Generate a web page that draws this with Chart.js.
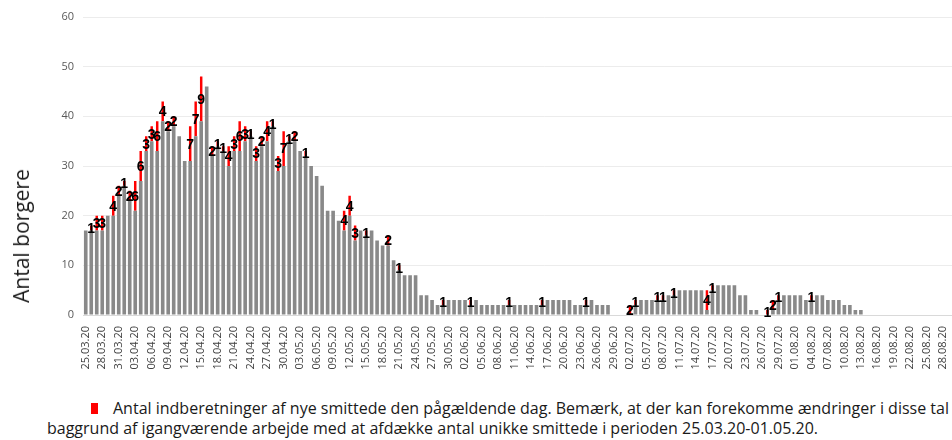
<!DOCTYPE html>
<html>
<head>
<meta charset="utf-8">
<script src="https://cdn.jsdelivr.net/npm/chart.js@4.4.1/dist/chart.umd.min.js"></script>
<style>
    body { margin: 0; background: #fff; }
    #wrap { position: relative; width: 952px; height: 440px; overflow: hidden; background: #fff; }
    #chart-box { position: absolute; left: 0; top: 0; width: 1020px; height: 390px; }
    #y-title { position: absolute; left: 21px; top: 236px; transform: translate(-50%, -50%) rotate(-90deg);
               white-space: nowrap; font: 21px "Open Sans"; color: #1a1a1a; }
    #note { position: absolute; left: 47px; top: 398px; white-space: nowrap; font: 16px "Open Sans";
            color: #1a1a1a; line-height: 20px; }
    #note .key { display: inline-block; width: 7px; height: 11px; background: #ff0000; margin-left: 44px; margin-right: 15px; }
</style>
</head>
<body>
<div id="wrap">
    <div id="chart-box"><canvas id="chart"></canvas></div>
    <div id="y-title">Antal borgere</div>
    <div id="note"><span class="key"></span>Antal indberetninger af nye smittede den pågældende dag. Bemærk, at der kan forekomme ændringer i disse tal på<br>baggrund af igangværende arbejde med at afdække antal unikke smittede i perioden 25.03.20-01.05.20.</div>
</div>
<script>
/* Number of days on the x axis, starting 25.03.20 (the chart is cut off on the right) */
const N_DAYS = 168;

/* Borgere per day, grey part (index 0 = 25.03.20) */
const baseCounts = [
    17, 17, 17, 17, 20, 20, 24, 26, 23, 21,
    27, 33, 35, 33, 39, 37, 38, 36, 31, 31,
    36, 39, 46, 32, 34, 33, 30, 33, 33, 35,
    36, 31, 34, 35, 38, 29, 30, 35, 35, 33,
    32, 30, 28, 26, 21, 21, 19, 17, 20, 15,
    17, 16, 17, 15, 14, 14, 11, 9, 8, 8,
    8, 4, 4, 3, 2, 2, 3, 3, 3, 3,
    2, 3, 2, 2, 2, 2, 2, 2, 2, 2,
    2, 2, 2, 2, 3, 3, 3, 3, 3, 2,
    2, 2, 3, 2, 2, 2, 0, 0, 0, 0,
    2, 3, 3, 3, 3, 3, 4, 4, 5, 5,
    5, 5, 5, 1, 5, 6, 6, 6, 6, 4,
    4, 1, 1, 0, 0, 1, 3, 4, 4, 4,
    4, 3, 3, 4, 4, 3, 3, 3, 2, 2,
    1, 1
];

/* Nye indberetninger per day, red part stacked on top (null = none) */
const newReports = [
    null, 1, 3, 3, null, 4, 2, 1, 2, 6,
    6, 3, 3, 6, 4, 2, 2, null, null, 7,
    7, 9, null, 2, 1, 1, 4, 3, 6, 3,
    1, 3, 2, 4, 1, 3, 7, 1, 2, null,
    1, null, null, null, null, null, null, 4, 4, 3,
    null, 1, null, null, null, 2, null, 1, null, null,
    null, null, null, null, null, 1, null, null, null, null,
    1, null, null, null, null, null, null, 1, null, null,
    null, null, null, 1, null, null, null, null, null, null,
    null, 1, null, null, null, null, null, null, null, 2,
    1, null, null, null, 1, 1, null, 1, null, null,
    null, null, null, 4, 1, null, null, null, null, null,
    null, null, null, null, 1, 2, 1, null, null, null,
    null, null, 1, null, null, null, null, null, null, null,
    null, null
];

const Y_TICKS = { min: 0, max: 60, step: 10 };

function buildDayLabels(n){
    /* It builds the dd.mm.yy labels of the x axis.
     * n: number of days, the first one is 25.03.20
     */
    const labels = [];
    for(let i = 0; i < n; i++){
        const d = new Date(Date.UTC(2020, 2, 25 + i));
        const dd = String(d.getUTCDate()).padStart(2, "0");
        const mm = String(d.getUTCMonth() + 1).padStart(2, "0");
        labels.push(`${dd}.${mm}.20`);
    }
    return labels;
}

/* Writes the red values in the middle of their bar segment */
const redValueLabels = {
    id: "redValueLabels",
    afterDatasetsDraw(chart){
        const ctx = chart.ctx;
        const meta = chart.getDatasetMeta(1);
        ctx.save();
        ctx.font = "bold 14px 'Liberation Sans'";
        ctx.fillStyle = "#000";
        ctx.textAlign = "center";
        ctx.textBaseline = "middle";
        meta.data.forEach((bar, i) => {
            const v = newReports[i];
            if(v === null || v === undefined) return;
            ctx.fillText(String(v), bar.x, (bar.y + bar.base) / 2 + 1);
        });
        ctx.restore();
    }
};

const days = buildDayLabels(N_DAYS);

new Chart(document.getElementById("chart").getContext("2d"), {
    type: "bar",
    data: {
        labels: days,
        datasets: [{
            label: "Antal borgere",
            data: baseCounts,
            backgroundColor: "#898989",
            barPercentage: 0.66,
            categoryPercentage: 1
        },
        {
            label: "Antal indberetninger af nye smittede den pågældende dag",
            data: newReports,
            backgroundColor: "#ff0000",
            barPercentage: 0.45,
            categoryPercentage: 1
        }]
    },
    options: {
        responsive: true,
        maintainAspectRatio: false,
        animation: false,
        layout: { padding: { top: 17, right: 4, bottom: 0, left: 0 } },
        plugins: {
            legend: { display: false },
            tooltip: { enabled: false }
        },
        scales: {
            x: {
                stacked: true,
                grid: { display: false },
                border: { display: true, color: "#d9d9d9" },
                afterFit(scale){ scale.height = 75; },
                ticks: {
                    autoSkip: false,
                    minRotation: 90,
                    maxRotation: 90,
                    padding: 3,
                    color: "#404040",
                    font: { family: "Open Sans", size: 11 },
                    callback(value, index){ return index % 3 === 0 ? days[index] : ""; }
                }
            },
            y: {
                stacked: true,
                min: Y_TICKS.min,
                max: Y_TICKS.max,
                grid: { color: "#ececec", drawTicks: false },
                border: { display: false },
                afterFit(scale){ scale.width = 83; },
                ticks: {
                    stepSize: Y_TICKS.step,
                    padding: 9,
                    color: "#595959",
                    font: { family: "Open Sans", size: 11 }
                }
            }
        }
    },
    plugins: [redValueLabels]
});
</script>
</body>
</html>
